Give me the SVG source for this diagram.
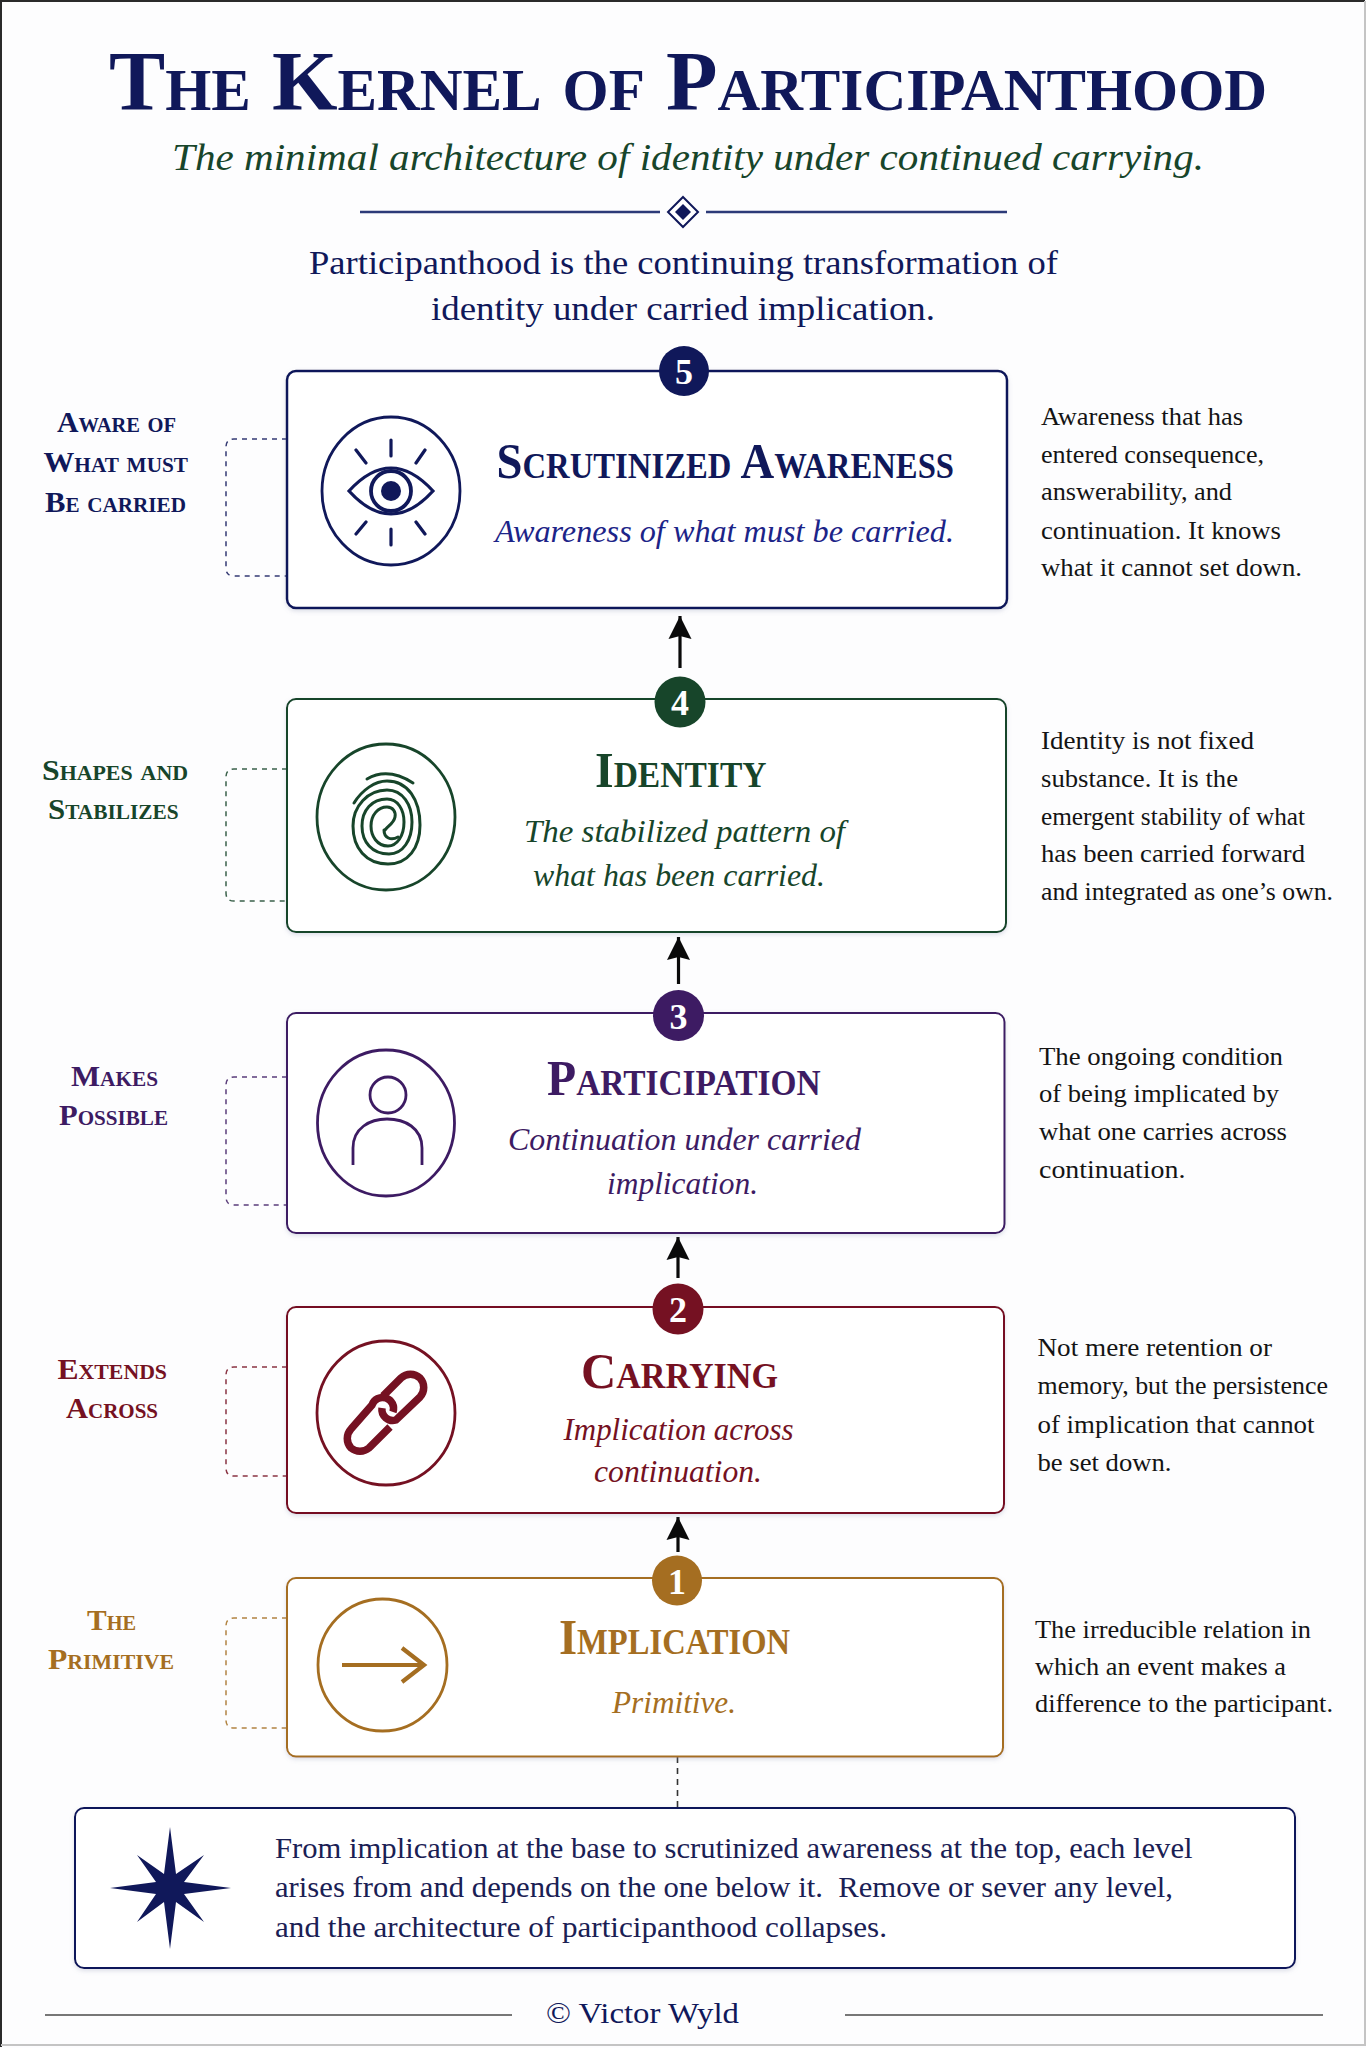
<svg xmlns="http://www.w3.org/2000/svg" width="1366" height="2048" viewBox="0 0 1366 2048">
<style>
text{font-family:"Liberation Serif","Times New Roman",serif}
.sc{font-variant:small-caps;font-weight:700}
.ttl{font-size:50px}
.lab{font-size:29px}
.it{font-style:italic;font-size:32px}
.desc{font-size:25px;fill:#141414}
.foot{font-size:29px;fill:#1a2054}
.num{font-size:36px;font-weight:700;fill:#fff;text-anchor:middle}
.box{fill:#fff;stroke-width:2;filter:url(#sh)}
.ic{fill:none;stroke-width:2.8}
.br{fill:none;stroke-width:1.5;stroke-dasharray:5 5;opacity:.85}
.navy{fill:#10185a}.navyS{stroke:#10185a}
.green{fill:#17452a}.greenS{stroke:#17452a}
.purple{fill:#3d1b63}.purpleS{stroke:#3d1b63}
.red{fill:#751122}.redS{stroke:#751122}
.gold{fill:#a56e21}.goldS{stroke:#a56e21}
.arr{stroke:#0a0a0a;stroke-width:3.2;fill:none}
</style>
<defs>
<filter id="sh" x="-3%" y="-3%" width="106%" height="108%"><feDropShadow dx="0" dy="2" stdDeviation="2" flood-color="#8890b0" flood-opacity="0.28"/></filter>
<marker id="ah" markerUnits="userSpaceOnUse" markerWidth="24" markerHeight="24" refX="23" refY="12" orient="auto"><path d="M23 12L0 0.5L3 12L0 23.5Z" fill="#0a0a0a"/></marker>
</defs>
<rect width="1366" height="2048" fill="#fdfdfe"/>
<path d="M1 2047V1H1365" fill="none" stroke="#2a2a2a" stroke-width="2"/>
<path d="M1365 1V2045H1" fill="none" stroke="#c4c4c4" stroke-width="2"/>

<g id="header">
<text x="109" y="110" class="sc navy" font-size="84" textLength="1158" lengthAdjust="spacingAndGlyphs">The Kernel of Participanthood</text>
<text x="172" y="170" class="green" font-size="38" font-style="italic" textLength="1032" lengthAdjust="spacingAndGlyphs">The minimal architecture of identity under continued carrying.</text>
<path d="M360 212H660M706 212H1007" stroke="#2c3a78" stroke-width="2.500" fill="none"/>
<path d="M683 197L698 212L683 227L668 212Z" fill="#fff" stroke="#10185a" stroke-width="2"/>
<path d="M683 204L691 212L683 220L675 212Z" fill="#10185a"/>
<text x="309" y="274" class="navy" font-size="34" textLength="749" lengthAdjust="spacingAndGlyphs">Participanthood is the continuing transformation of</text>
<text x="431" y="320" class="navy" font-size="34" textLength="504" lengthAdjust="spacingAndGlyphs">identity under carried implication.</text>
</g>

<g id="connectors">
<path class="arr" d="M680 668V616" marker-end="url(#ah)"/>
<path class="arr" d="M678.500 984V937" marker-end="url(#ah)"/>
<path class="arr" d="M678 1278V1237" marker-end="url(#ah)"/>
<path class="arr" d="M678 1552V1517" marker-end="url(#ah)"/>
<path d="M677.500 1757V1808" stroke="#333" stroke-width="1.600" stroke-dasharray="6 5" fill="none"/>
<path class="br navyS" d="M287 439H234Q226 439 226 447V568Q226 576 234 576H287"/>
<path class="br greenS" d="M287 769H234Q226 769 226 777V893Q226 901 234 901H287"/>
<path class="br purpleS" d="M287 1077H234Q226 1077 226 1085V1197Q226 1205 234 1205H287"/>
<path class="br redS" d="M287 1367H234Q226 1367 226 1375V1468Q226 1476 234 1476H287"/>
<path class="br goldS" d="M287 1618H234Q226 1618 226 1626V1720Q226 1728 234 1728H287"/>
</g>

<g id="node5">
<rect class="box navyS" x="287" y="371" width="720" height="237" rx="9" style="stroke-width:2.500"/>
<circle cx="684" cy="371" r="25" class="navy"/>
<text x="684" y="384" class="num">5</text>
<ellipse class="ic navyS" cx="391" cy="491" rx="69" ry="74"/>
<path class="navyS" fill="none" stroke-width="3.200" d="M349 491Q391 445 433 491Q391 537 349 491Z"/>
<circle class="navyS" fill="none" stroke-width="3.800" cx="391" cy="491" r="20"/>
<circle class="navy" cx="391" cy="491" r="10"/>
<path class="navyS" fill="none" stroke-width="3.200" stroke-linecap="round" d="M391 440V456M391 529V545M356 450L366 463M425 450L416 463M366 522L356 534M416 522L425 534"/>
<text x="496.500" y="478" class="sc ttl navy" textLength="457.500" lengthAdjust="spacingAndGlyphs">Scrutinized Awareness</text>
<text x="495" y="542" class="it" fill="#1c2488" textLength="459" lengthAdjust="spacingAndGlyphs">Awareness of what must be carried.</text>
<text x="57" y="432" class="sc lab navy" textLength="119" lengthAdjust="spacingAndGlyphs">Aware of</text>
<text x="43.500" y="472" class="sc lab navy" textLength="144.500" lengthAdjust="spacingAndGlyphs">What must</text>
<text x="45" y="512" class="sc lab navy" textLength="141" lengthAdjust="spacingAndGlyphs">Be carried</text>
<text x="1041" y="425" class="desc" textLength="202" lengthAdjust="spacingAndGlyphs">Awareness that has</text>
<text x="1041" y="463" class="desc" textLength="223" lengthAdjust="spacingAndGlyphs">entered consequence,</text>
<text x="1041" y="500" class="desc" textLength="191" lengthAdjust="spacingAndGlyphs">answerability, and</text>
<text x="1041" y="539" class="desc" textLength="240" lengthAdjust="spacingAndGlyphs">continuation. It knows</text>
<text x="1041" y="576" class="desc" textLength="261" lengthAdjust="spacingAndGlyphs">what it cannot set down.</text>
</g>

<g id="node4">
<rect class="box greenS" x="287" y="699" width="719" height="233" rx="9"/>
<circle cx="680" cy="702" r="25.500" class="green"/>
<text x="680" y="715" class="num">4</text>
<ellipse class="ic greenS" cx="386" cy="817" rx="69" ry="73"/>
<path class="greenS" fill="none" stroke-width="3" stroke-linecap="round" d="M367 779Q388 767 413 783"/>
<path class="greenS" fill="none" stroke-width="3" stroke-linecap="round" d="M354 803C362 790 375 781 387 781C408 781 420 800 420 825C420 848 408 864 388 864C366 864 353 848 353 826C353 806 368 790 387 790C403 790 412 805 412 822C412 840 403 854 389 854C372 854 362 842 362 826C362 810 372 799 387 799C398 799 404 810 404 822C404 836 397 846 388 846C377 846 371 836 371 826C371 815 378 807 387 807C393 807 396 812 395 817C394 823 388 826 385 830"/>
<path class="greenS" fill="none" stroke-width="3" stroke-linecap="round" d="M398 837C391 841 384 838 384 830"/>
<text x="595" y="787" class="sc ttl green" textLength="171.500" lengthAdjust="spacingAndGlyphs">Identity</text>
<text x="524" y="842" class="it green" textLength="321" lengthAdjust="spacingAndGlyphs">The stabilized pattern of</text>
<text x="533" y="886" class="it green" textLength="292" lengthAdjust="spacingAndGlyphs">what has been carried.</text>
<text x="42" y="780" class="sc lab green" textLength="146" lengthAdjust="spacingAndGlyphs">Shapes and</text>
<text x="48" y="819" class="sc lab green" textLength="130.500" lengthAdjust="spacingAndGlyphs">Stabilizes</text>
<text x="1041" y="748.500" class="desc" textLength="213" lengthAdjust="spacingAndGlyphs">Identity is not fixed</text>
<text x="1041" y="787" class="desc" textLength="197" lengthAdjust="spacingAndGlyphs">substance. It is the</text>
<text x="1041" y="824.500" class="desc" textLength="264" lengthAdjust="spacingAndGlyphs">emergent stability of what</text>
<text x="1041" y="862" class="desc" textLength="264" lengthAdjust="spacingAndGlyphs">has been carried forward</text>
<text x="1041" y="900" class="desc" textLength="292" lengthAdjust="spacingAndGlyphs">and integrated as one’s own.</text>
</g>

<g id="node3">
<rect class="box purpleS" x="287" y="1013" width="717.500" height="220" rx="9"/>
<circle cx="678.500" cy="1015.500" r="25.500" class="purple"/>
<text x="678.500" y="1028.500" class="num">3</text>
<ellipse class="ic purpleS" cx="386" cy="1123" rx="68.500" ry="73"/>
<circle class="ic purpleS" cx="388" cy="1095" r="18"/>
<path class="ic purpleS" d="M353 1165V1148C353 1128 370 1119 387 1119C405 1119 422 1128 422 1148V1165"/>
<text x="547" y="1095" class="sc ttl purple" textLength="273.500" lengthAdjust="spacingAndGlyphs">Participation</text>
<text x="508" y="1149.500" class="it purple" textLength="353" lengthAdjust="spacingAndGlyphs">Continuation under carried</text>
<text x="607" y="1194" class="it purple" textLength="151" lengthAdjust="spacingAndGlyphs">implication.</text>
<text x="71" y="1085.500" class="sc lab purple" textLength="87" lengthAdjust="spacingAndGlyphs">Makes</text>
<text x="59" y="1124.500" class="sc lab purple" textLength="109" lengthAdjust="spacingAndGlyphs">Possible</text>
<text x="1039" y="1064.500" class="desc" textLength="244" lengthAdjust="spacingAndGlyphs">The ongoing condition</text>
<text x="1039" y="1102" class="desc" textLength="240" lengthAdjust="spacingAndGlyphs">of being implicated by</text>
<text x="1039" y="1140" class="desc" textLength="248" lengthAdjust="spacingAndGlyphs">what one carries across</text>
<text x="1039" y="1177.500" class="desc" textLength="146.500" lengthAdjust="spacingAndGlyphs">continuation.</text>
</g>

<g id="node2">
<rect class="box redS" x="287" y="1307" width="717" height="206" rx="9"/>
<circle cx="678" cy="1309" r="25.500" class="red"/>
<text x="678" y="1322" class="num">2</text>
<ellipse class="ic redS" cx="386" cy="1413" rx="69" ry="72"/>
<path class="redS" fill="none" stroke-width="7.500" d="M383 1396L401 1378A14 14 0 0 1 420 1378A14 14 0 0 1 420 1397L396 1420A11 11 0 0 1 382 1408"/>
<path class="redS" fill="none" stroke-width="7.500" d="M390 1427L369 1448A14 14 0 0 1 351 1448A14 14 0 0 1 351 1429L372 1405A11 11 0 0 1 393 1412"/>
<text x="581" y="1388" class="sc ttl red" textLength="197" lengthAdjust="spacingAndGlyphs">Carrying</text>
<text x="563.500" y="1440" class="it red" textLength="230" lengthAdjust="spacingAndGlyphs">Implication across</text>
<text x="594" y="1482" class="it red" textLength="168" lengthAdjust="spacingAndGlyphs">continuation.</text>
<text x="57.500" y="1378.500" class="sc lab red" textLength="109.500" lengthAdjust="spacingAndGlyphs">Extends</text>
<text x="66" y="1418" class="sc lab red" textLength="92" lengthAdjust="spacingAndGlyphs">Across</text>
<text x="1037.500" y="1356" class="desc" textLength="234.500" lengthAdjust="spacingAndGlyphs">Not mere retention or</text>
<text x="1037.500" y="1394" class="desc" textLength="290.500" lengthAdjust="spacingAndGlyphs">memory, but the persistence</text>
<text x="1037.500" y="1433" class="desc" textLength="277" lengthAdjust="spacingAndGlyphs">of implication that cannot</text>
<text x="1037.500" y="1471" class="desc" textLength="134" lengthAdjust="spacingAndGlyphs">be set down.</text>
</g>

<g id="node1">
<rect class="box goldS" x="287" y="1578" width="716" height="178.500" rx="9"/>
<circle cx="677" cy="1580.500" r="25" class="gold"/>
<text x="677" y="1593.500" class="num">1</text>
<ellipse class="ic goldS" cx="382.500" cy="1665" rx="64.500" ry="66"/>
<path class="goldS" fill="none" stroke-width="4.200" d="M342 1665H423M402 1648L424 1665L402 1682"/>
<text x="559" y="1654" class="sc ttl gold" textLength="231" lengthAdjust="spacingAndGlyphs">Implication</text>
<text x="612" y="1713" class="it gold" textLength="124" lengthAdjust="spacingAndGlyphs">Primitive.</text>
<text x="87" y="1629.500" class="sc lab gold" textLength="49" lengthAdjust="spacingAndGlyphs">The</text>
<text x="48" y="1669" class="sc lab gold" textLength="126" lengthAdjust="spacingAndGlyphs">Primitive</text>
<text x="1035" y="1638" class="desc" textLength="276" lengthAdjust="spacingAndGlyphs">The irreducible relation in</text>
<text x="1035" y="1675" class="desc" textLength="251" lengthAdjust="spacingAndGlyphs">which an event makes a</text>
<text x="1035" y="1712" class="desc" textLength="298" lengthAdjust="spacingAndGlyphs">difference to the participant.</text>
</g>

<g id="summary">
<rect class="box navyS" x="75" y="1808" width="1220" height="160" rx="9"/>
<path class="navy" d="M170 1827L176 1874L204 1855L184 1882L231 1888L184 1894L204 1922L176 1902L170 1949L164 1902L137 1922L156 1894L110 1888L156 1882L137 1855L164 1874Z"/>
<text x="275" y="1857.500" class="foot" textLength="917.500" lengthAdjust="spacingAndGlyphs">From implication at the base to scrutinized awareness at the top, each level</text>
<text x="275" y="1897" class="foot" xml:space="preserve" textLength="898" lengthAdjust="spacingAndGlyphs">arises from and depends on the one below it.  Remove or sever any level,</text>
<text x="275" y="1937" class="foot" textLength="612" lengthAdjust="spacingAndGlyphs">and the architecture of participanthood collapses.</text>
</g>

<g id="credit">
<path d="M45 2015H512M845 2015H1323" stroke="#777" stroke-width="1.800" fill="none"/>
<text x="546" y="2023" class="navy" font-size="30" textLength="193" lengthAdjust="spacingAndGlyphs">© Victor Wyld</text>
</g>
</svg>
